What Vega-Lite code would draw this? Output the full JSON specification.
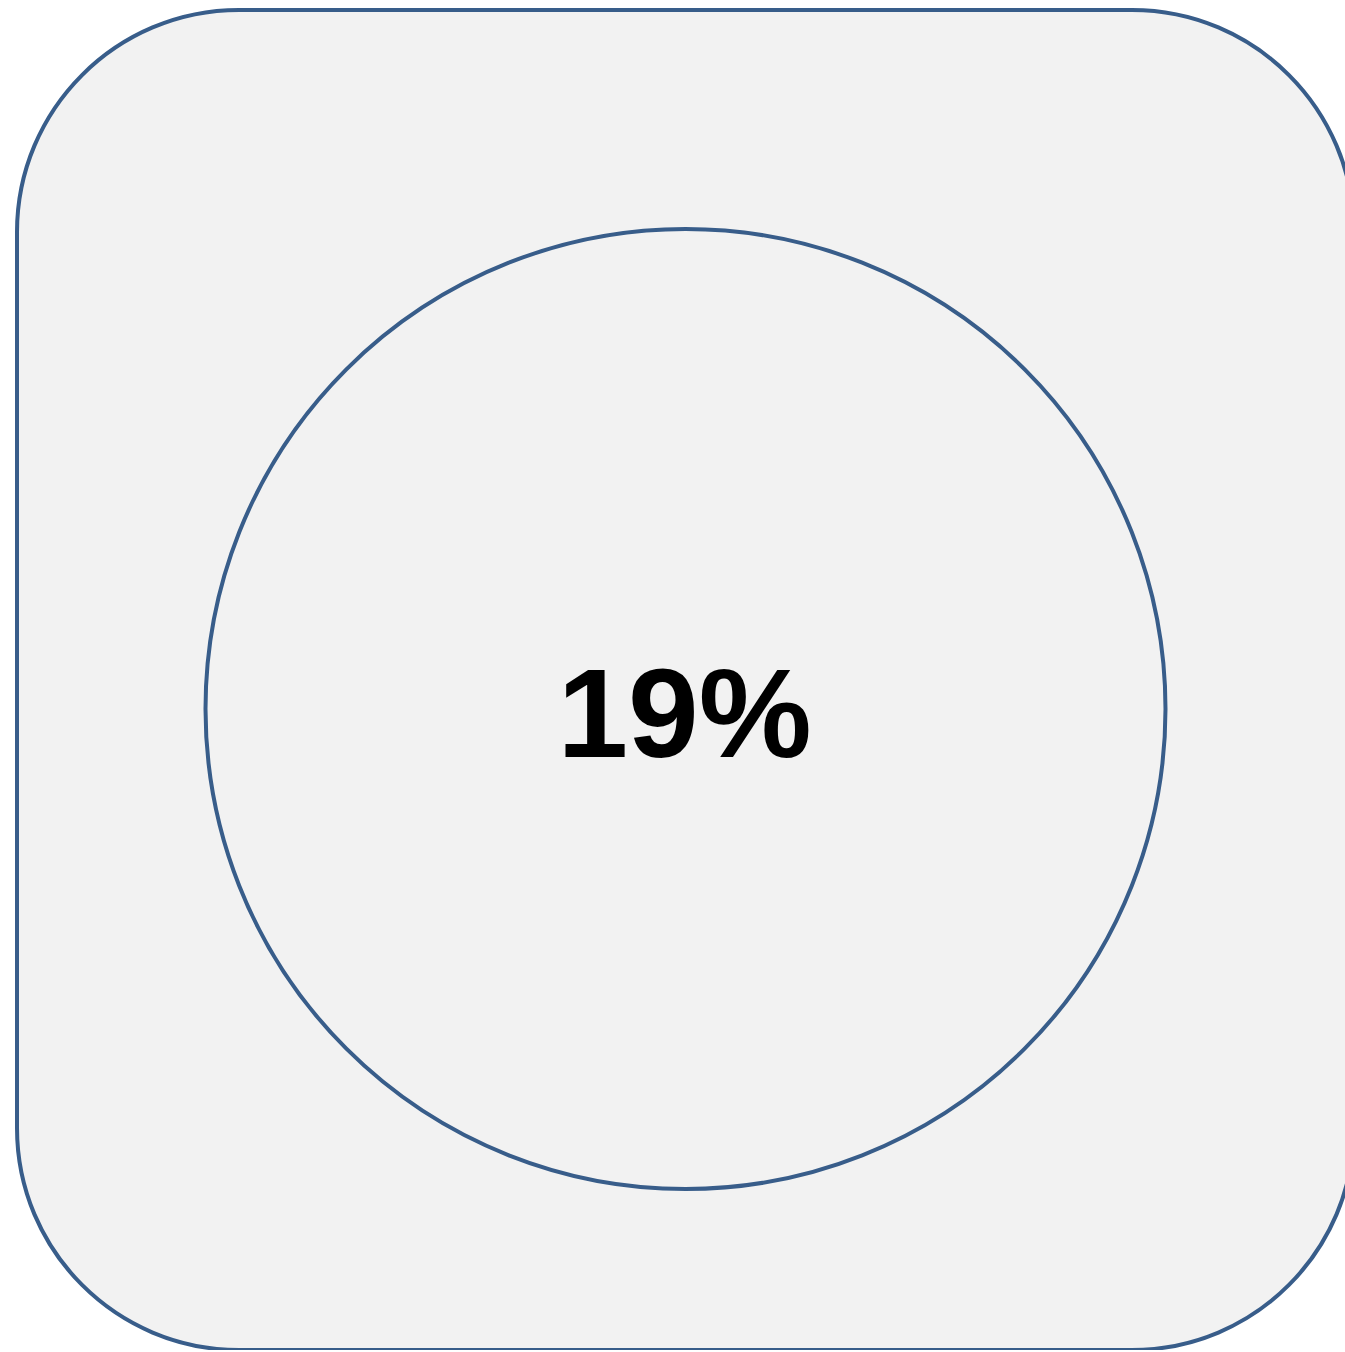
{
  "$schema": "https://vega.github.io/schema/vega-lite/v6.json",
  "autosize": "none",
  "padding": {"left": 17, "top": 10, "right": 0, "bottom": 0},
  "width": 1337,
  "height": 1340,
  "background": "white",
  "view": {"fill": "#f2f2f2", "stroke": "#385d8a", "strokeWidth": 4, "cornerRadius": 222},
  "data": {"values": [{"label": "19%", "value": 19}]},
  "layer": [
    {
      "mark": {"type": "point", "shape": "circle", "filled": false, "stroke": "#385d8a", "strokeWidth": 4, "size": 921600, "opacity": 1, "yOffset": 29},
      "encoding": {}
    },
    {
      "mark": {"type": "text", "font": "Liberation Sans", "fontWeight": "bold", "fontSize": 127, "baseline": "alphabetic", "align": "center", "color": "black", "yOffset": 77, "xOffset": -1},
      "encoding": {"text": {"field": "label", "type": "nominal"}}
    }
  ]
}
